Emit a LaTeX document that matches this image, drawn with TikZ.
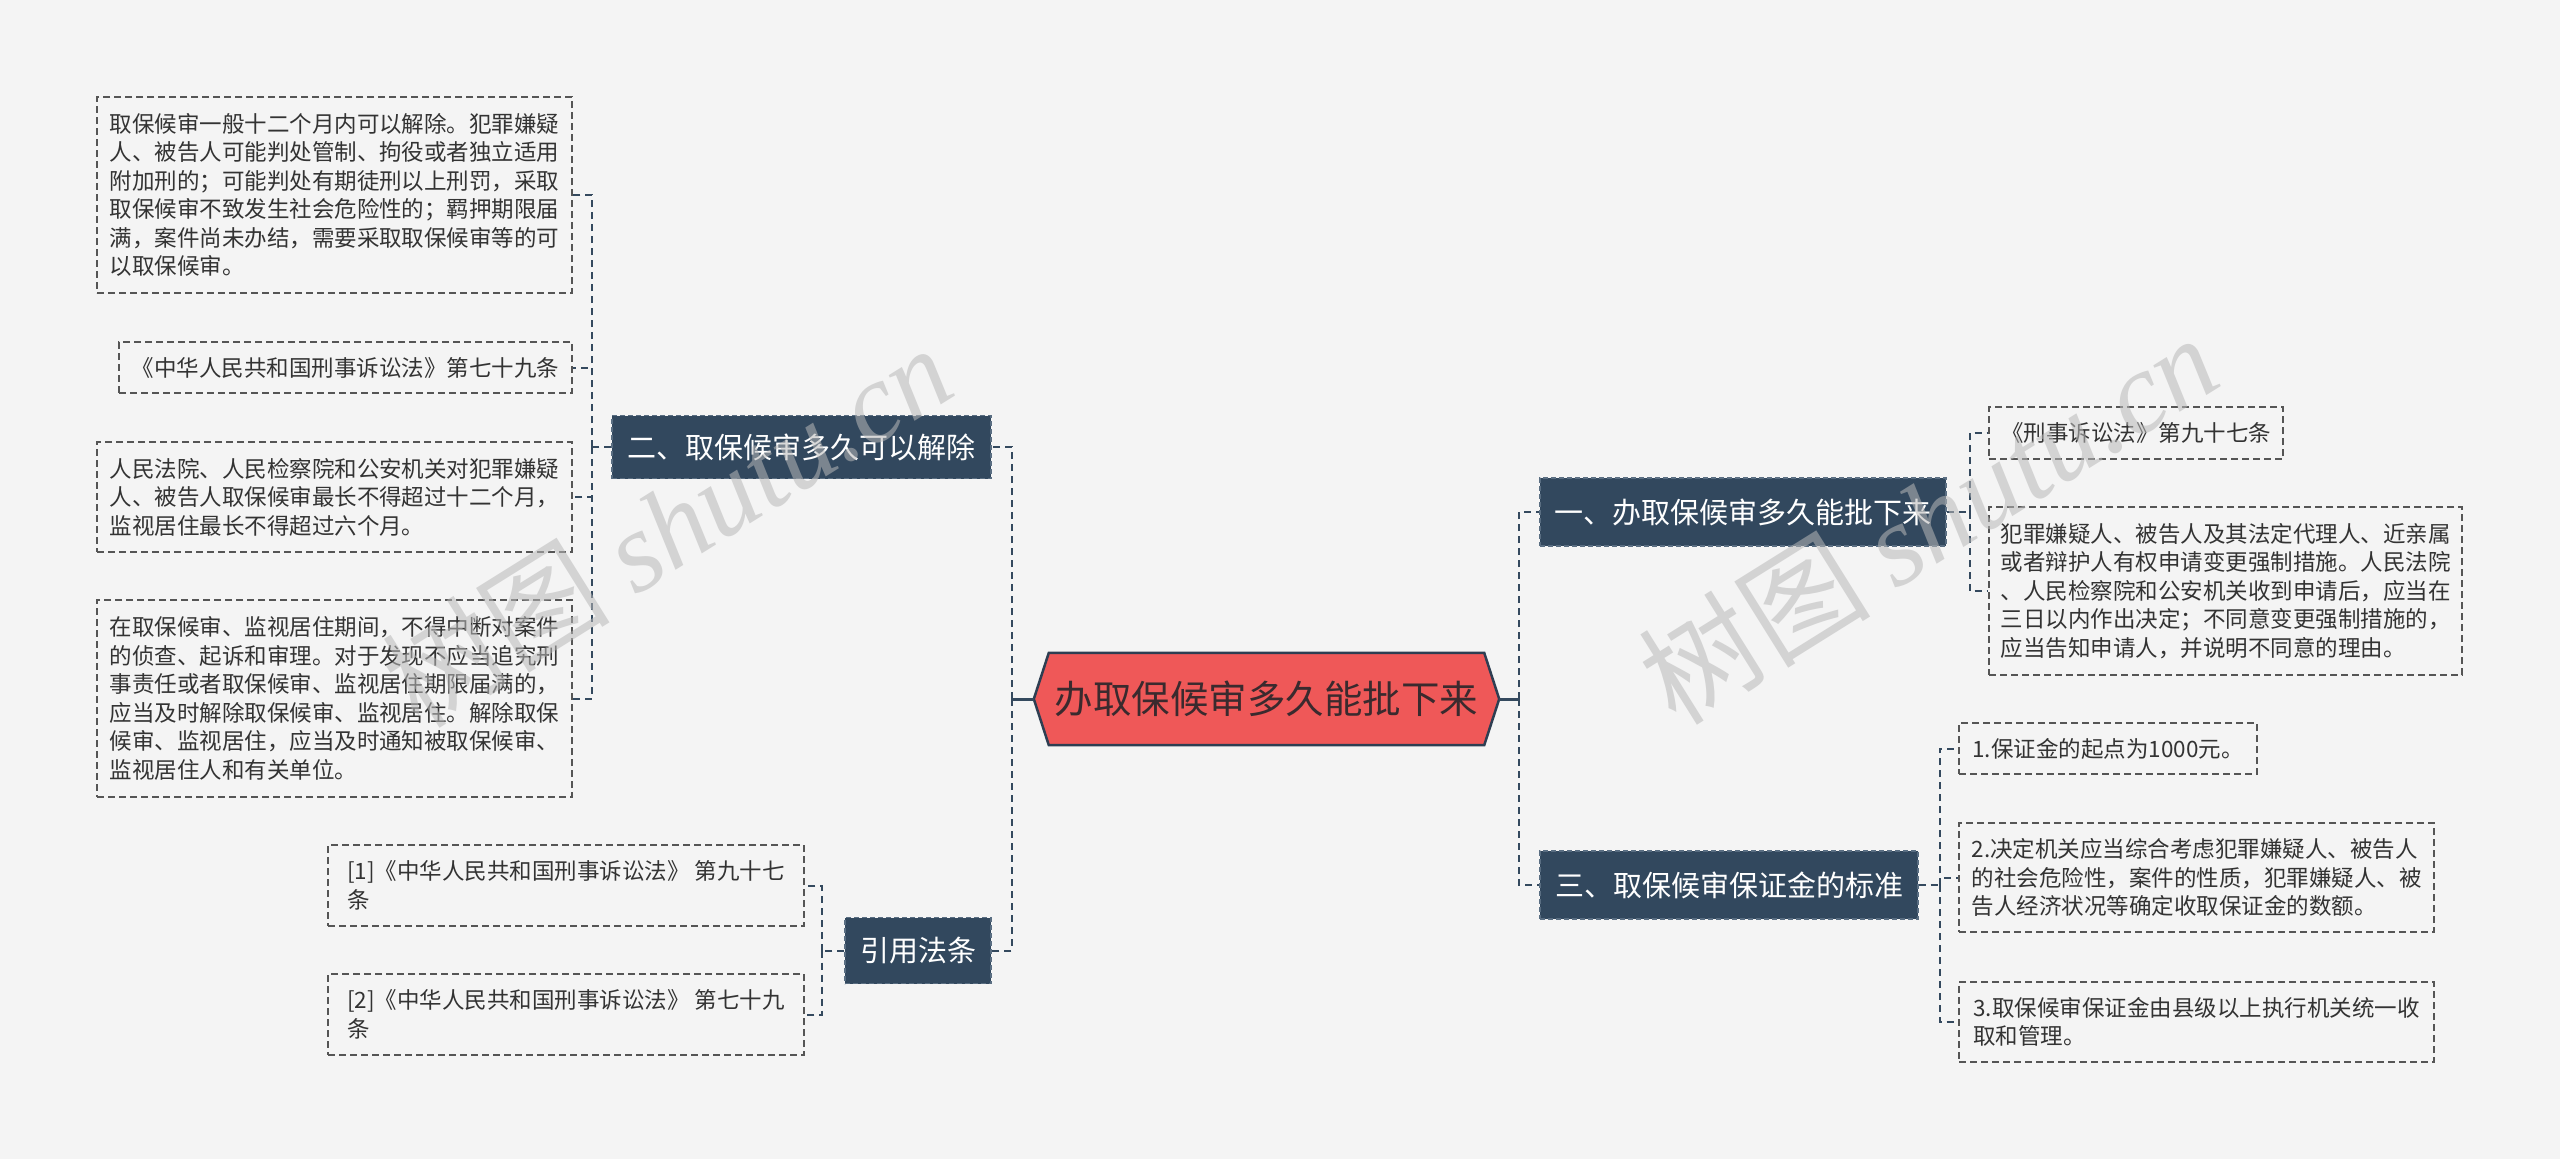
\documentclass[tikz,border=0pt]{standalone}
\usepackage{fontspec}
\setmainfont{Noto Sans CJK SC}
\newfontfamily\wmserif{Liberation Serif}
\definecolor{bg}{HTML}{F4F4F4}
\definecolor{navy}{HTML}{32485E}
\definecolor{navyline}{HTML}{5A6E82}
\definecolor{mainred}{HTML}{EF5858}
\definecolor{mainline}{HTML}{2E3E52}
\definecolor{maintext}{HTML}{3A2A2E}
\definecolor{leafline}{HTML}{555555}
\definecolor{leaftext}{HTML}{333333}
\definecolor{conn}{HTML}{34495E}
\definecolor{wm}{HTML}{B8B8B8}
\begin{document}
\begin{tikzpicture}[x=1pt,y=-1pt,
  leafbox/.style={draw=leafline, line width=1.6pt, dash pattern=on 7pt off 4pt, fill=bg, text=leaftext, align=left, font=\fontsize{22.5}{28.5}\selectfont, inner sep=0pt},
  branch/.style={fill=navy, draw=navyline, line width=1.2pt, dash pattern=on 5pt off 3pt, text=white, font=\fontsize{29}{34}\selectfont, inner sep=0pt},
  link/.style={draw=conn, line width=2pt, dash pattern=on 7pt off 5pt},
  solidlink/.style={draw=conn, line width=3pt},
  wmark/.style={text=wm, opacity=0.55, rotate=32, inner sep=0pt}
]
\useasboundingbox (0,0) rectangle (2560,1159);
\fill[bg] (0,0) rectangle (2560,1159);

% main node
\node[minimum width=465pt, minimum height=92pt, inner sep=0pt] (main) at (1266.5,699) {};
\draw[fill=mainred, draw=mainline, line width=2.5pt]
  (main.west) -- ([xshift=15pt]main.north west) -- ([xshift=-15pt]main.north east) -- (main.east)
  -- ([xshift=-15pt]main.south east) -- ([xshift=15pt]main.south west) -- cycle;
\node[text=maintext, font=\fontsize{38.5}{44}\selectfont, inner sep=0pt] (maintext) at (main.center) {办取保候审多久能批下来};

% branch nodes
\node[branch, minimum width=379pt, minimum height=63pt] (n2) at (801.5,447) {二、取保候审多久可以解除};
\node[branch, minimum width=146pt, minimum height=66pt] (nref) at (918,950.5) {引用法条};
\node[branch, minimum width=406pt, minimum height=68pt] (n1) at (1743,512) {一、办取保候审多久能批下来};
\node[branch, minimum width=378pt, minimum height=68pt] (n3) at (1729,885) {三、取保候审保证金的标准};

% leaves of n2
\node[leafbox, minimum width=475pt, minimum height=196pt] (l1) at (334.5,195) {取保候审一般十二个月内可以解除。犯罪嫌疑\\人、被告人可能判处管制、拘役或者独立适用\\附加刑的；可能判处有期徒刑以上刑罚，采取\\取保候审不致发生社会危险性的；羁押期限届\\满，案件尚未办结，需要采取取保候审等的可\\以取保候审。};
\node[leafbox, minimum width=453pt, minimum height=51pt] (l2) at (345.5,367.5) {《中华人民共和国刑事诉讼法》第七十九条};
\node[leafbox, minimum width=475pt, minimum height=110pt] (l3) at (334.5,497) {人民法院、人民检察院和公安机关对犯罪嫌疑\\人、被告人取保候审最长不得超过十二个月，\\监视居住最长不得超过六个月。};
\node[leafbox, minimum width=475pt, minimum height=197pt] (l4) at (334.5,698.5) {在取保候审、监视居住期间，不得中断对案件\\的侦查、起诉和审理。对于发现不应当追究刑\\事责任或者取保候审、监视居住期限届满的，\\应当及时解除取保候审、监视居住。解除取保\\候审、监视居住，应当及时通知被取保候审、\\监视居住人和有关单位。};

% leaves of nref
\node[leafbox, minimum width=476pt, minimum height=81pt] (r1) at (566,885.5) {[1]《中华人民共和国刑事诉讼法》 第九十七\\条};
\node[leafbox, minimum width=476pt, minimum height=81pt] (r2) at (566,1014.5) {[2]《中华人民共和国刑事诉讼法》 第七十九\\条};

% leaves of n1
\node[leafbox, minimum width=294pt, minimum height=52pt] (a1) at (2136,433) {《刑事诉讼法》第九十七条};
\node[leafbox, minimum width=473pt, minimum height=168pt] (a2) at (2225.5,591) {犯罪嫌疑人、被告人及其法定代理人、近亲属\\或者辩护人有权申请变更强制措施。人民法院\\、人民检察院和公安机关收到申请后，应当在\\三日以内作出决定；不同意变更强制措施的，\\应当告知申请人，并说明不同意的理由。};

% leaves of n3
\node[leafbox, minimum width=298pt, minimum height=51pt] (c1) at (2108,748.5) {1.保证金的起点为1000元。};
\node[leafbox, minimum width=475pt, minimum height=109pt] (c2) at (2196.5,877.5) {2.决定机关应当综合考虑犯罪嫌疑人、被告人\\的社会危险性，案件的性质，犯罪嫌疑人、被\\告人经济状况等确定收取保证金的数额。};
\node[leafbox, minimum width=475pt, minimum height=80pt] (c3) at (2196.5,1022) {3.取保候审保证金由县级以上执行机关统一收\\取和管理。};

% connectors main -> branches
\draw[solidlink] (main.west) -- ++(-22,0) coordinate (sl);
\draw[solidlink] (main.east) -- ++(20,0) coordinate (sr);
\draw[link] (sl) |- (n2.east);
\draw[link] (sl) |- (nref.east);
\draw[link] (sr) |- (n1.west);
\draw[link] (sr) |- (n3.west);

% n2 -> leaves
\draw[link] (n2.west) -- ++(-19,0) coordinate (s2);
\foreach \l in {l1,l2,l3,l4} \draw[link] (s2) |- (\l.east);
% nref -> leaves
\draw[link] (nref.west) -- ++(-22,0) coordinate (sref);
\foreach \l in {r1,r2} \draw[link] (sref) |- (\l.east);
% n1 -> leaves
\draw[link] (n1.east) -- ++(23,0) coordinate (s1);
\foreach \l in {a1,a2} \draw[link] (s1) |- (\l.west);
% n3 -> leaves
\draw[link] (n3.east) -- ++(21,0) coordinate (s3);
\foreach \l in {c1,c2,c3} \draw[link] (s3) |- (\l.west);

% watermarks
\node[wmark] (wm1) at (667,525) {\fontsize{114}{120}\selectfont 树图 {\wmserif\itshape shutu.cn}};
\node[wmark] (wm2) at (1928,518) {\fontsize{116}{120}\selectfont 树图 {\wmserif\itshape shutu.cn}};
\end{tikzpicture}
\end{document}
